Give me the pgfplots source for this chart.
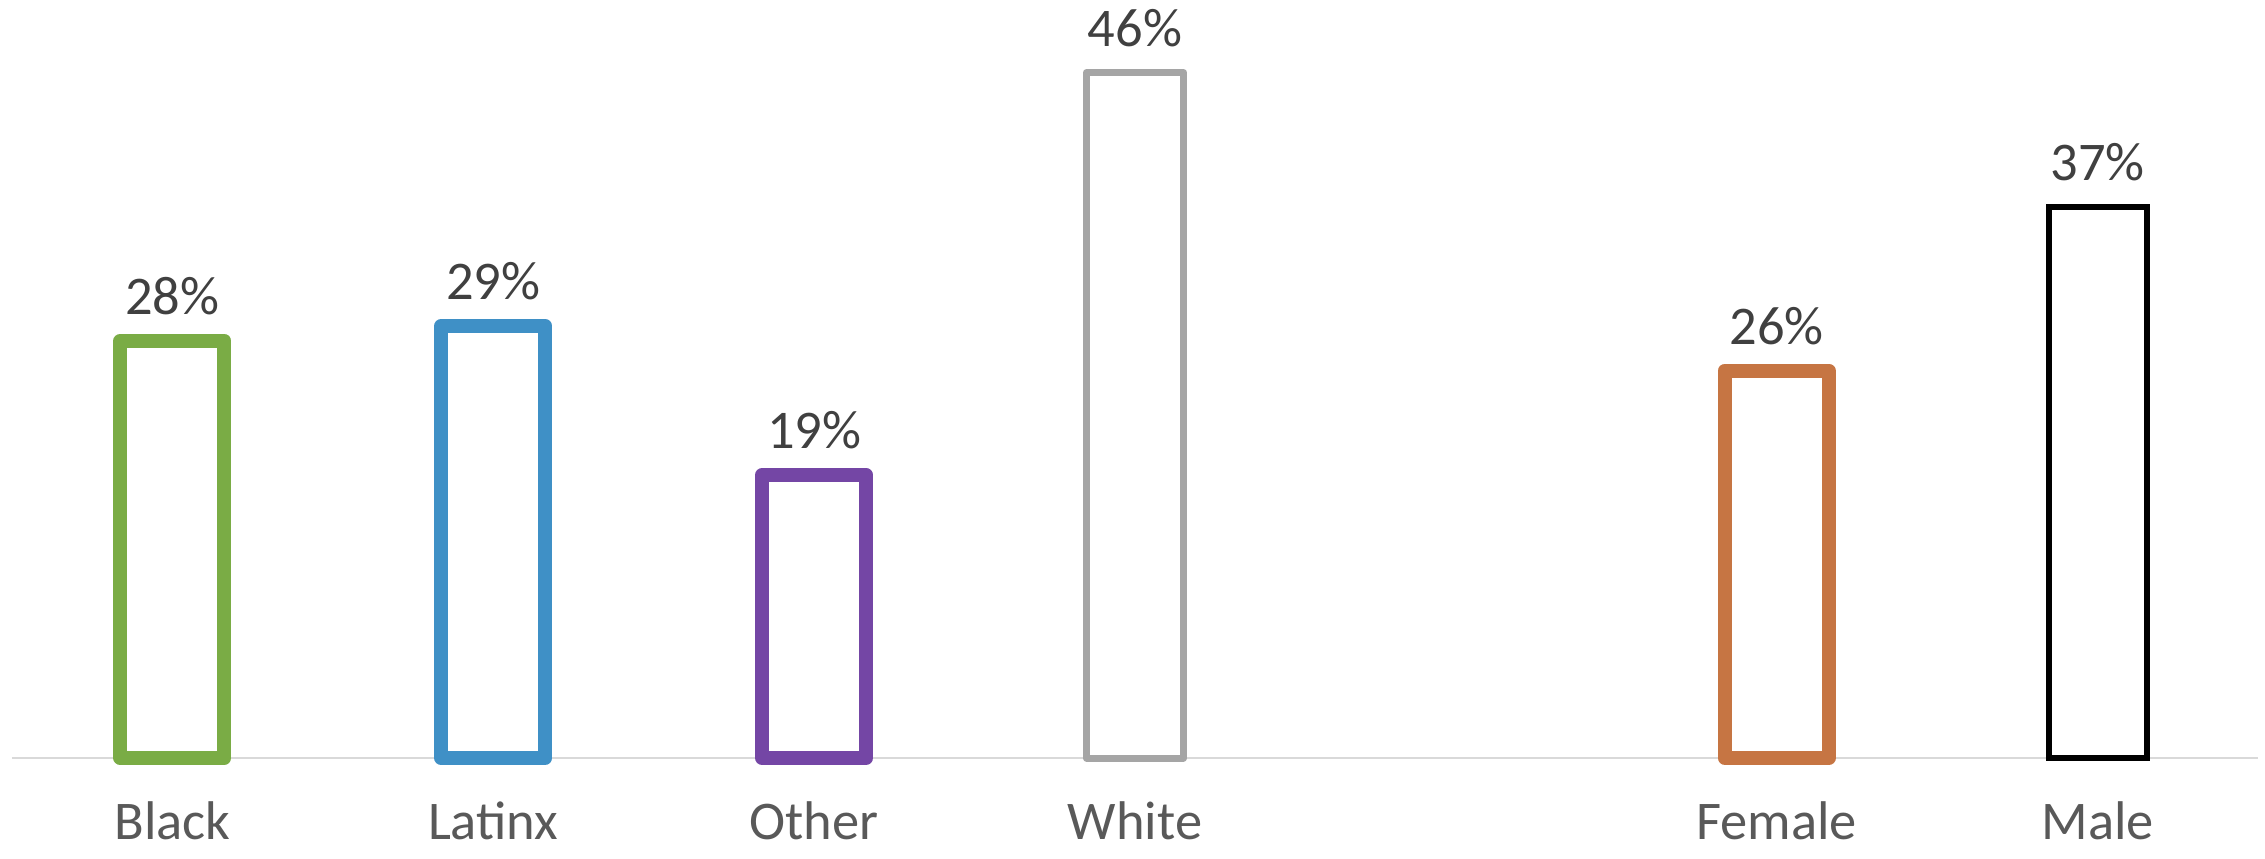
\documentclass[border=0pt]{standalone}
\usepackage{pgfplots}
\pgfplotsset{compat=1.18}
\usepackage{fontspec}
\setmainfont{Carlito}
\definecolor{cgreen}{HTML}{7AAC45}
\definecolor{cblue}{HTML}{3F90C6}
\definecolor{cpurple}{HTML}{7446A5}
\definecolor{cgrey}{HTML}{A5A5A5}
\definecolor{corange}{HTML}{C67543}
\definecolor{labtxt}{HTML}{404040}
\definecolor{ticktxt}{HTML}{595959}
\definecolor{axisgrey}{HTML}{D9D9D9}
\begin{document}
\begin{tikzpicture}
\begin{axis}[
  scale only axis,
  width=22.46cm, height=7.45cm,
  xmin=-0.5, xmax=6.5,
  ymin=0, ymax=50,
  ybar,
  clip=false,
  hide y axis,
  axis x line*=bottom,
  x axis line style={draw=axisgrey, line width=0.15mm, -},
  xtick={0,1,2,3,5,6},
  xticklabels={Black,Latinx,Other,White,Female,Male},
  major tick length=0pt,
  xticklabel style={font=\fontsize{15.5}{18}\selectfont, text=ticktxt, anchor=base, inner sep=0pt, yshift=-8.1mm},
  nodes near coords={\pgfmathprintnumber{\pgfplotspointmeta}\%},
  /pgf/number format/assume math mode=true,
  every node near coord/.append style={font=\fontsize{15.5}{18}\selectfont, text=labtxt, anchor=base, inner sep=0pt, yshift=2.6mm},
]
\addplot[bar shift=0pt, bar width=10.4mm, draw=cgreen, fill=white, line width=1.4mm, line join=round] coordinates {(0,28)};
\addplot[bar shift=0pt, bar width=10.4mm, draw=cblue, fill=white, line width=1.4mm, line join=round] coordinates {(1,29)};
\addplot[bar shift=0pt, bar width=10.4mm, draw=cpurple, fill=white, line width=1.4mm, line join=round] coordinates {(2,19)};
\addplot[bar shift=0pt, bar width=9.7mm, draw=cgrey, fill=white, line width=0.7mm, line join=round] coordinates {(3,46)};
\addplot[bar shift=0pt, bar width=10.4mm, draw=corange, fill=white, line width=1.4mm, line join=round] coordinates {(5,26)};
\addplot[bar shift=0pt, bar width=9.8mm, draw=black, fill=white, line width=0.6mm, line join=miter] coordinates {(6,37)};
\end{axis}
\pgfresetboundingbox
\path ([xshift=-1.2mm,yshift=-10.0mm]current axis.south west) rectangle ([xshift=0.7mm,yshift=1.3mm]current axis.north east);
\end{tikzpicture}
\end{document}
